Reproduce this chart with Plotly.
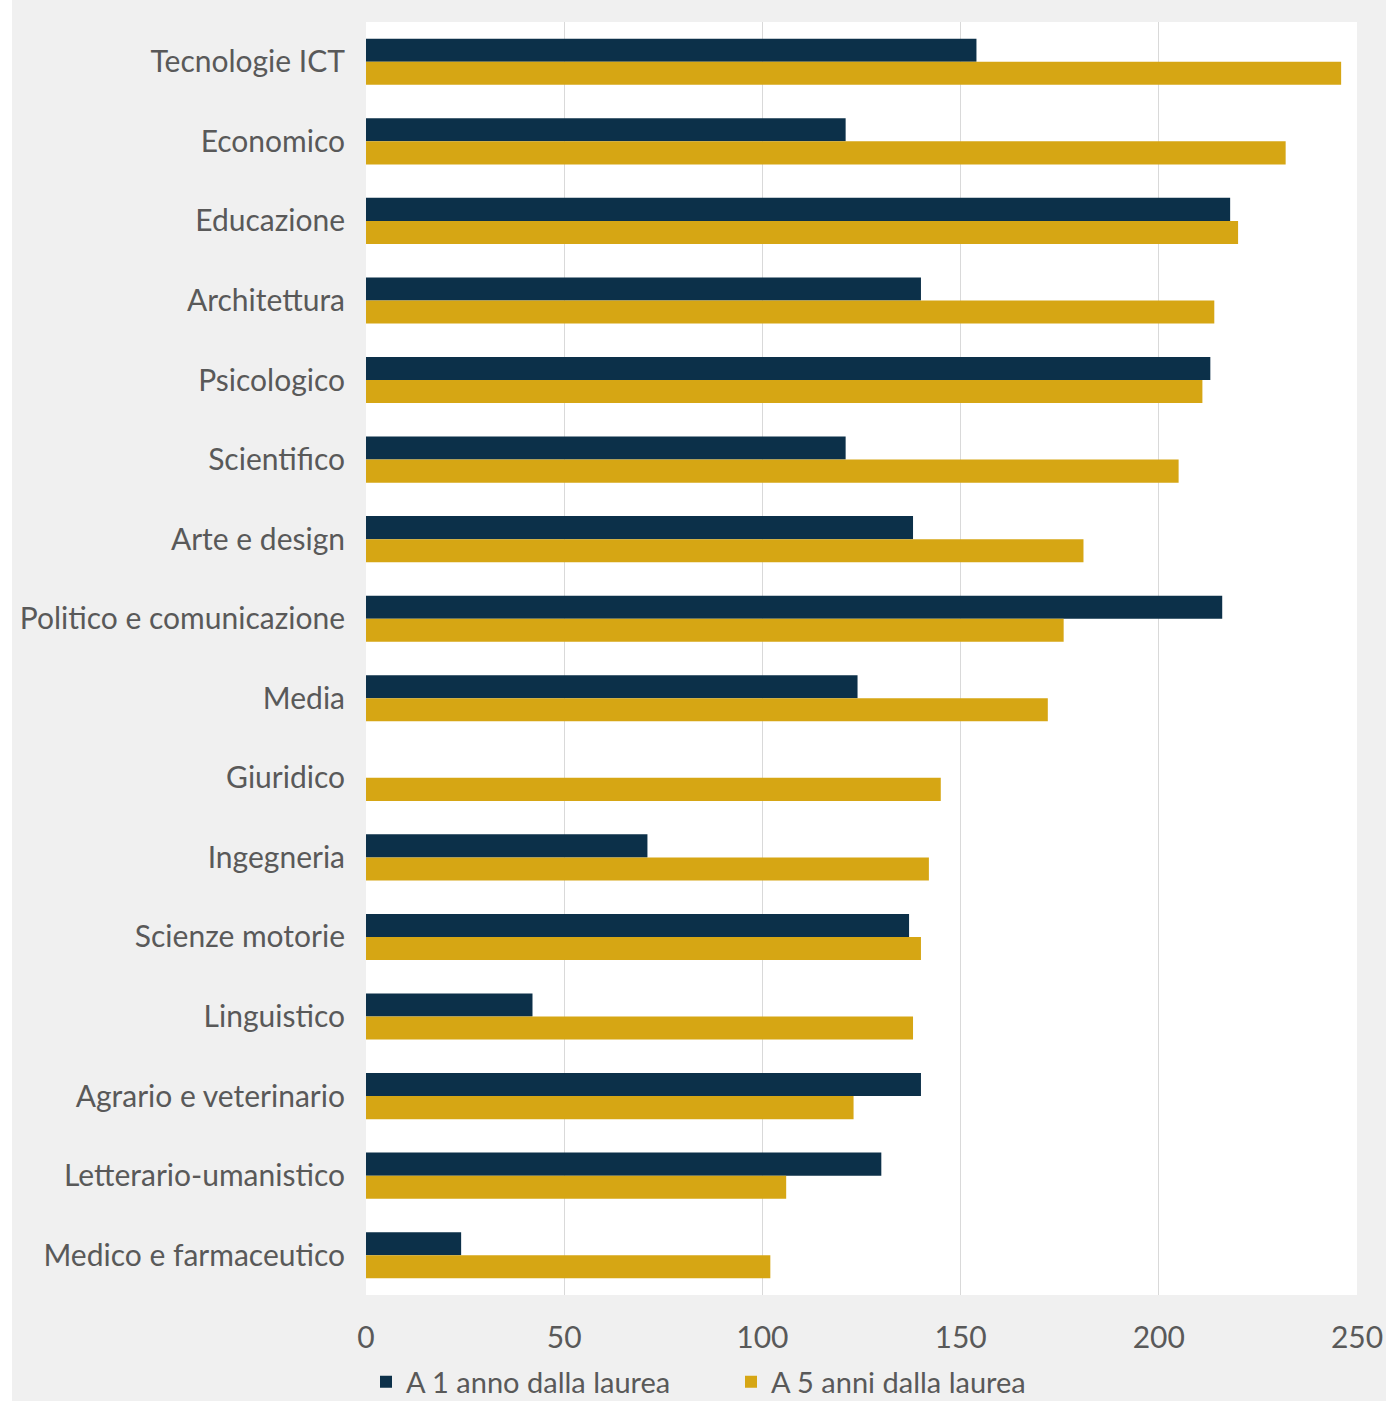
import plotly.graph_objects as go

categories = ["Tecnologie ICT", "Economico", "Educazione", "Architettura", "Psicologico",
              "Scientifico", "Arte e design", "Politico e comunicazione", "Media", "Giuridico",
              "Ingegneria", "Scienze motorie", "Linguistico", "Agrario e veterinario",
              "Letterario-umanistico", "Medico e farmaceutico"]
anno1 = [154, 121, 218, 140, 213, 121, 138, 216, 124, None, 71, 137, 42, 140, 130, 24]
anni5 = [246, 232, 220, 214, 211, 205, 181, 176, 172, 145, 142, 140, 138, 123, 106, 102]
series_names = ["A 1 anno dalla laurea", "A 5 anni dalla laurea"]
x_ticks = [0, 50, 100, 150, 200, 250]

DARK = "#0c3049"
GOLD = "#d6a614"
FONT = "Lato"
TXT = "#595959"
FS = 30

W, H = 1386, 1401
ML, MR, MT, MB = 366, 29, 22, 106
PW, PH = W - ML - MR, H - MT - MB

fig = go.Figure()
fig.add_trace(go.Bar(y=categories, x=anno1, orientation="h", name=series_names[0],
                     marker=dict(color=DARK, line=dict(width=0))))
fig.add_trace(go.Bar(y=categories, x=anni5, orientation="h", name=series_names[1],
                     marker=dict(color=GOLD, line=dict(width=0))))

fig.update_layout(
    width=W, height=H,
    paper_bgcolor="#f0f0f0", plot_bgcolor="white",
    margin=dict(l=ML, r=MR, t=MT, b=MB, autoexpand=False),
    barmode="group", bargap=0.42, bargroupgap=0,
    font=dict(family=FONT, size=FS, color=TXT),
    legend=dict(orientation="h", x=0.0, y=-(1382 - (H - MB)) / PH, xanchor="left", yanchor="middle",
                font=dict(size=29, color=TXT), bgcolor="rgba(0,0,0,0)",
                itemwidth=30, traceorder="normal", entrywidth=320, entrywidthmode="pixels"),
    showlegend=True,
    shapes=[dict(type="rect", xref="paper", yref="paper", x0=-ML / PW, x1=-(ML - 12) / PW,
                 y0=-MB / PH, y1=1 + MT / PH, fillcolor="white", line=dict(width=0),
                 layer="below")],
)
fig.update_xaxes(range=[0, 250], tickvals=x_ticks, showgrid=True, gridcolor="#d9d9d9",
                 gridwidth=1, zeroline=False, showline=False,
                 ticks="outside", ticklen=16, tickcolor="rgba(0,0,0,0)",
                 tickfont=dict(size=FS, color=TXT))
fig.update_yaxes(autorange="reversed", showgrid=False, zeroline=False, showline=False,
                 ticks="outside", ticklen=14, tickcolor="rgba(0,0,0,0)",
                 tickfont=dict(size=FS, color=TXT))

fig.write_html("out.html", config={"displayModeBar": False},
               post_script="document.body.style.margin='0';document.body.style.overflow='hidden';")
